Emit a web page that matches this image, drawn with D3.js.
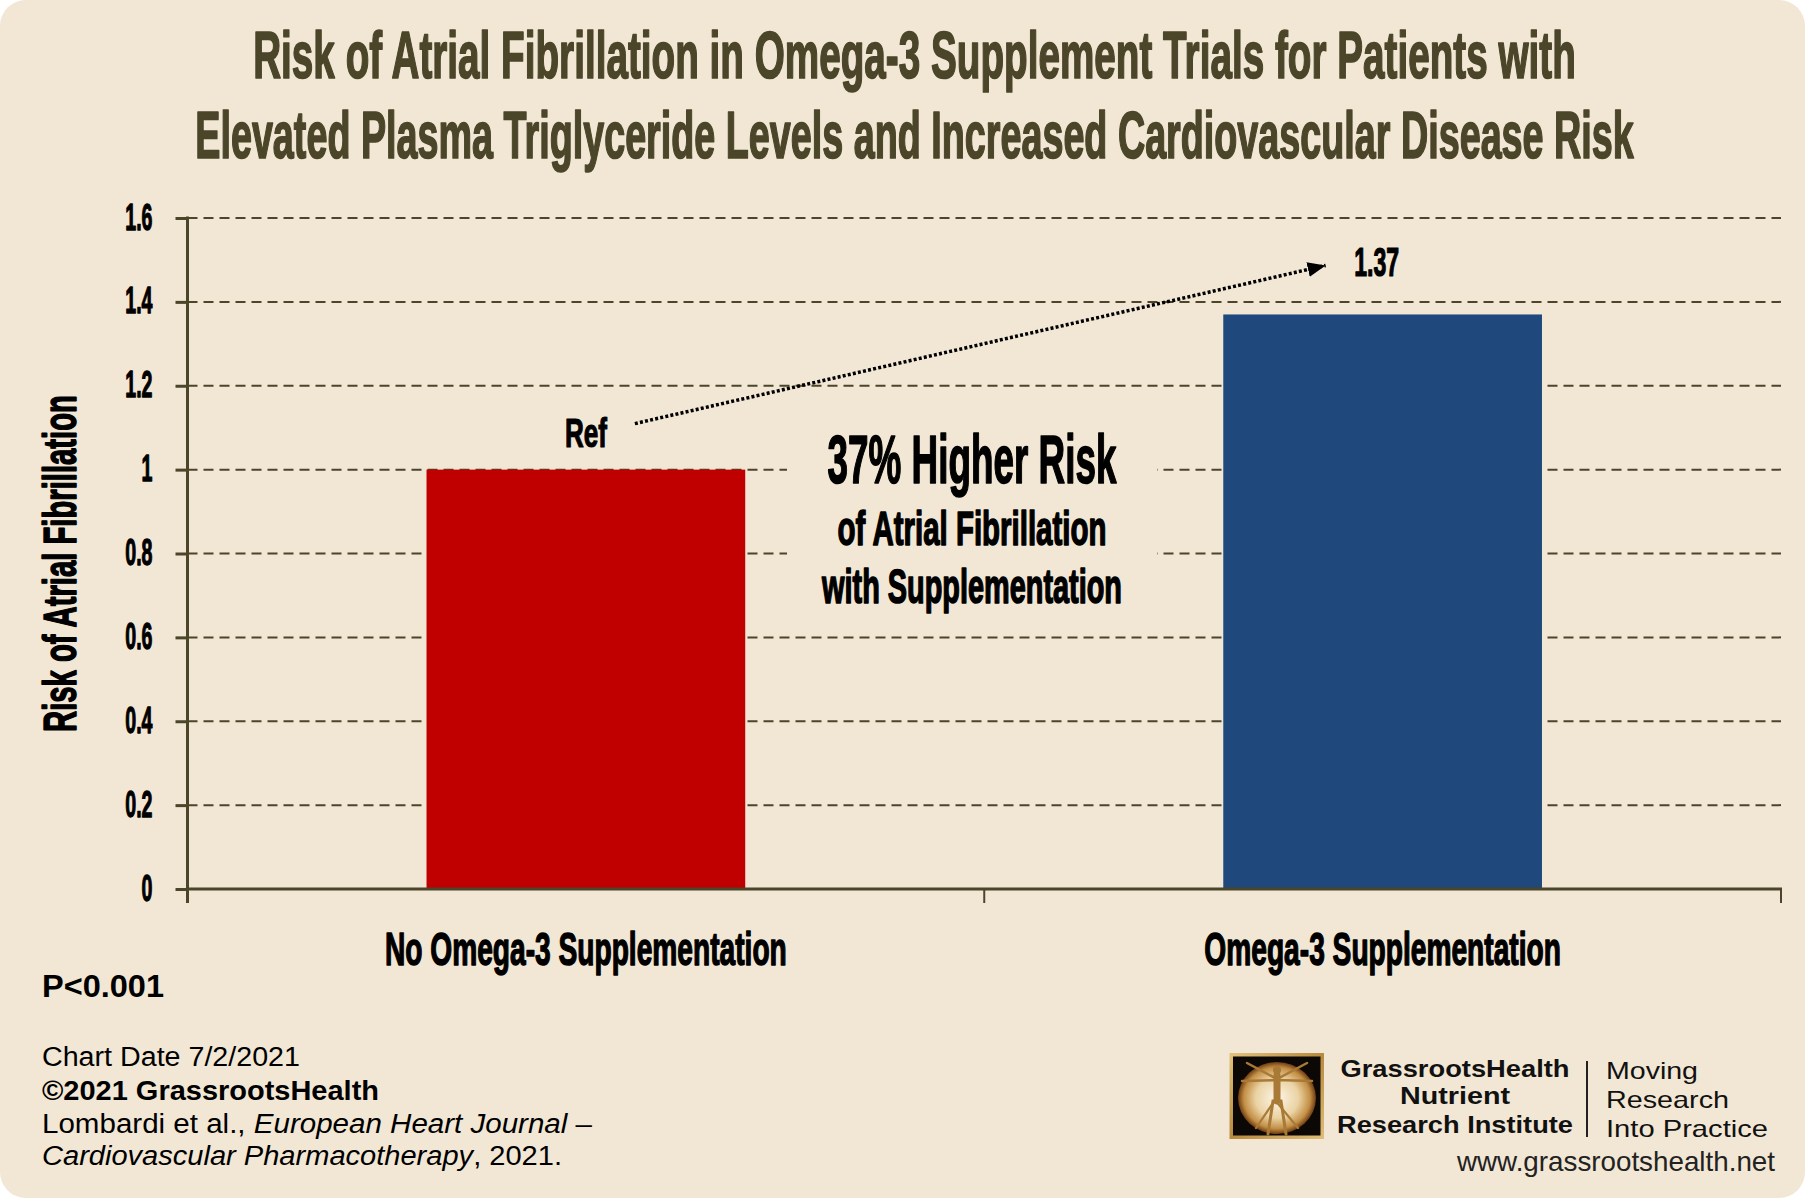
<!DOCTYPE html>
<html><head><meta charset="utf-8">
<script src="https://cdn.jsdelivr.net/npm/d3@7"></script>
<style>body{margin:0;background:#fff}svg{display:block}</style>
</head><body><svg id="chart" width="1805" height="1198"></svg>
<script>
// ---------- data ----------
const categories = ["No Omega-3 Supplementation", "Omega-3 Supplementation"];
const risks = [1.0, 1.37];
const valueLabels = ["Ref", "1.37"];
const barColors = ["#C00000", "#1F497D"];
const yTicks = [0, 0.2, 0.4, 0.6, 0.8, 1.0, 1.2, 1.4, 1.6];
const yTickLabels = ["0", "0.2", "0.4", "0.6", "0.8", "1", "1.2", "1.4", "1.6"];
const titleLines = [
  "Risk of Atrial Fibrillation in Omega-3 Supplement Trials for Patients with",
  "Elevated Plasma Triglyceride Levels and Increased Cardiovascular Disease Risk"
];
const yAxisTitle = "Risk of Atrial Fibrillation";
const annotationLines = ["37% Higher Risk", "of Atrial Fibrillation", "with Supplementation"];
const pValue = "P<0.001";
const logoLeft = ["GrassrootsHealth", "Nutrient", "Research Institute"];
const logoRight = ["Moving", "Research", "Into Practice"];
const website = "www.grassrootshealth.net";

// ---------- setup ----------
const W = 1805, H = 1198;
const BG = "#F1E7D4", OLIVE = "#4B4529";
const svg = d3.select("#chart");
svg.append("rect").attr("width", W).attr("height", H).attr("fill", "#fff");
svg.append("rect").attr("width", W).attr("height", H).attr("rx", 26).attr("fill", BG);

const COND = "'Liberation Sans', Arial, sans-serif";
function cond(sel, size, color, sw) {
  return sel.attr("font-family", COND).attr("font-weight", "bold").attr("font-size", size)
    .attr("fill", color).attr("stroke", color).attr("stroke-width", sw)
    .attr("stroke-linejoin", "round").attr("vector-effect", "non-scaling-stroke");
}
// horizontally condense a text by transform so that it gets width w (or factor k)
function place(sel, cx, by, opt) {
  sel.each(function () {
    const nat = this.getComputedTextLength();
    const k = opt.w ? opt.w / nat : opt.k;
    d3.select(this).attr("x", 0).attr("y", 0)
      .attr("transform", `translate(${cx},${by})${opt.rot ? ` rotate(${opt.rot})` : ""} scale(${k},1)`);
  });
}
function fit(sel, w) { return sel.attr("textLength", w).attr("lengthAdjust", "spacingAndGlyphs"); }

// ---------- title ----------
const titleWidths = [1323, 1439];
titleLines.forEach((t, i) => {
  const tx = svg.append("text").attr("text-anchor", "middle").text(t);
  cond(tx, 66.5, OLIVE, 1.4);
  place(tx, 914.5, 78 + i * 80, { w: titleWidths[i] });
});

// ---------- scales ----------
const x = d3.scaleBand().domain(categories).range([187.5, 1781]).paddingInner(0.6).paddingOuter(0.3);
const xb = d3.scaleBand().domain(categories).range([187.5, 1781]).padding(0);
const y = d3.scaleLinear().domain([0, 1.6]).range([889, 218]);

// ---------- gridlines ----------
svg.append("g").selectAll("line").data(yTicks.filter(d => d > 0)).join("line")
  .attr("x1", 187.5).attr("x2", 1781).attr("y1", d => y(d)).attr("y2", d => y(d))
  .attr("stroke", OLIVE).attr("stroke-width", 2).attr("stroke-dasharray", "10,6");

// mask behind annotation
svg.append("rect").attr("x", 787).attr("y", 418).attr("width", 370).attr("height", 182).attr("fill", BG);

// ---------- bars ----------
svg.append("g").selectAll("rect").data(categories).join("rect")
  .attr("x", d => x(d)).attr("width", x.bandwidth())
  .attr("y", (d, i) => y(risks[i])).attr("height", (d, i) => y(0) - y(risks[i]))
  .attr("fill", (d, i) => barColors[i]);

// ---------- y axis ----------
const ya = svg.append("g").attr("transform", "translate(187.5,0)")
  .call(d3.axisLeft(y).tickValues(yTicks).tickFormat((d, i) => yTickLabels[i]).tickSize(12).tickPadding(23));
ya.select(".domain").remove();
ya.selectAll(".tick line").attr("stroke", OLIVE).attr("stroke-width", 3);
const yt = ya.selectAll(".tick text").attr("dy", null);
cond(yt, 37, "#000", 1);
place(yt, -35, 11, { k: 0.53 });
svg.append("line").attr("x1", 187.5).attr("x2", 187.5).attr("y1", y(1.6) - 1.5).attr("y2", y(0) + 14)
  .attr("stroke", OLIVE).attr("stroke-width", 3);

// ---------- x axis ----------
svg.append("line").attr("x1", 187.5).attr("x2", 1782).attr("y1", y(0)).attr("y2", y(0))
  .attr("stroke", OLIVE).attr("stroke-width", 3);
const bounds = categories.slice(1).map(c => xb(c)).concat([xb.range()[1]]);
svg.append("g").selectAll("line").data(bounds).join("line")
  .attr("x1", d => d).attr("x2", d => d).attr("y1", y(0)).attr("y2", y(0) + 14)
  .attr("stroke", OLIVE).attr("stroke-width", 2);
categories.forEach(c => {
  const tx = svg.append("text").attr("text-anchor", "middle").text(c);
  cond(tx, 46, "#000", 1.2);
  place(tx, xb(c) + xb.bandwidth() / 2, 965, { k: 0.612 });
});

// ---------- y axis title ----------
const ytt = svg.append("text").attr("text-anchor", "middle").text(yAxisTitle);
cond(ytt, 46, "#000", 1.2);
place(ytt, 76, 563.5, { w: 337, rot: -90 });

// ---------- value labels ----------
const labelOffsets = [23, 38];
const labelWidths = [42, 45];
const labelDx = [0, -6];
valueLabels.forEach((t, i) => {
  const c = categories[i];
  const tx = svg.append("text").attr("text-anchor", "middle").text(t);
  cond(tx, 41, "#000", 1);
  place(tx, x(c) + x.bandwidth() / 2 + labelDx[i], y(risks[i]) - labelOffsets[i], { w: labelWidths[i] });
});

// ---------- arrow ----------
const defs = svg.append("defs");
defs.append("marker").attr("id", "ah").attr("markerUnits", "userSpaceOnUse")
  .attr("viewBox", "0 -8 18 16").attr("refX", 18).attr("refY", 0)
  .attr("markerWidth", 18).attr("markerHeight", 16).attr("orient", "auto")
  .append("path").attr("d", "M0,-7.5L18,0L0,7.5Z").attr("fill", "#000");
const c0 = x(categories[0]) + x.bandwidth() / 2, c1 = x(categories[1]) + x.bandwidth() / 2;
svg.append("line").attr("x1", c0 + 49).attr("y1", y(risks[0]) - 46)
  .attr("x2", c1 - 57).attr("y2", y(risks[1]) - 49)
  .attr("stroke", "#000").attr("stroke-width", 3.5).attr("stroke-dasharray", "3,2.2")
  .attr("marker-end", "url(#ah)");

// ---------- annotation ----------
const annY = [483, 545, 603], annSize = [68, 47.5, 47.5], annW = [289, 269, 300];
annotationLines.forEach((t, i) => {
  const tx = svg.append("text").attr("text-anchor", "middle").text(t);
  cond(tx, annSize[i], "#000", 1.3);
  place(tx, 972, annY[i], { w: annW[i] });
});

// ---------- footer left ----------
const ARIAL = "'Liberation Sans', Arial, sans-serif";
fit(svg.append("text").attr("x", 42).attr("y", 997).attr("font-family", ARIAL).attr("font-weight", "bold")
  .attr("font-size", 31).attr("fill", "#000").text(pValue), 122);
fit(svg.append("text").attr("x", 42).attr("y", 1066).attr("font-family", ARIAL)
  .attr("font-size", 27).attr("fill", "#000").text("Chart Date 7/2/2021"), 258);
fit(svg.append("text").attr("x", 42).attr("y", 1099.5).attr("font-family", ARIAL).attr("font-weight", "bold")
  .attr("font-size", 27).attr("fill", "#000").text("©2021 GrassrootsHealth"), 337);
const l3 = svg.append("text").attr("x", 42).attr("y", 1132.5).attr("font-family", ARIAL)
  .attr("font-size", 27).attr("fill", "#000");
l3.append("tspan").text("Lombardi et al., ");
l3.append("tspan").attr("font-style", "italic").text("European Heart Journal");
l3.append("tspan").text(" –");
fit(l3, 550);
const l4 = svg.append("text").attr("x", 42).attr("y", 1165).attr("font-family", ARIAL)
  .attr("font-size", 27).attr("fill", "#000");
l4.append("tspan").attr("font-style", "italic").text("Cardiovascular Pharmacotherapy");
l4.append("tspan").text(", 2021.");
fit(l4, 520);

// ---------- logo ----------
const lg = defs.append("linearGradient").attr("id", "gold").attr("x1", 0).attr("y1", 0).attr("x2", 1).attr("y2", 1);
lg.append("stop").attr("offset", 0).attr("stop-color", "#E2C37E");
lg.append("stop").attr("offset", 0.5).attr("stop-color", "#B88A3E");
lg.append("stop").attr("offset", 1).attr("stop-color", "#E0BE78");
const rg = defs.append("radialGradient").attr("id", "orb");
rg.append("stop").attr("offset", 0).attr("stop-color", "#FDF6E8");
rg.append("stop").attr("offset", 0.55).attr("stop-color", "#EAD3A4");
rg.append("stop").attr("offset", 0.85).attr("stop-color", "#C38F45");
rg.append("stop").attr("offset", 1).attr("stop-color", "#6E3C12");
const logo = svg.append("g");
logo.append("rect").attr("x", 1229.5).attr("y", 1053).attr("width", 94.5).attr("height", 86).attr("fill", "url(#gold)");
logo.append("rect").attr("x", 1233).attr("y", 1056.5).attr("width", 87.5).attr("height", 79).attr("fill", "#0B0806");
logo.append("ellipse").attr("cx", 1277).attr("cy", 1098).attr("rx", 39).attr("ry", 36).attr("fill", "url(#orb)");
const fig = logo.append("g").attr("stroke", "#A97A36").attr("stroke-linecap", "round").attr("fill", "none");
fig.append("circle").attr("cx", 1277).attr("cy", 1070).attr("r", 4).attr("fill", "#A97A36").attr("stroke", "none");
fig.append("path").attr("d", "M1277,1075 L1277,1101").attr("stroke-width", 7);
fig.append("path").attr("d", "M1242,1081 L1277,1080 L1312,1081").attr("stroke-width", 2.5);
fig.append("path").attr("d", "M1247,1063 L1277,1079 L1307,1063").attr("stroke-width", 2.5);
fig.append("path").attr("d", "M1268,1134 L1273,1101 L1281,1101 L1286,1134").attr("stroke-width", 3);
fig.append("path").attr("d", "M1256,1128 L1275,1100 L1298,1128").attr("stroke-width", 2.2);

const llY = [1077, 1104, 1132.7], llW = [229, 110, 236];
logoLeft.forEach((t, i) => {
  fit(svg.append("text").attr("x", 1455).attr("y", llY[i]).attr("text-anchor", "middle")
    .attr("font-family", ARIAL).attr("font-weight", "bold").attr("font-size", 24).attr("fill", "#111").text(t), llW[i]);
});
svg.append("line").attr("x1", 1587).attr("x2", 1587).attr("y1", 1061).attr("y2", 1137)
  .attr("stroke", "#222").attr("stroke-width", 2);
const lrY = [1079, 1108, 1137], lrW = [92, 123, 162];
logoRight.forEach((t, i) => {
  fit(svg.append("text").attr("x", 1606).attr("y", lrY[i])
    .attr("font-family", ARIAL).attr("font-size", 24).attr("fill", "#111").text(t), lrW[i]);
});
fit(svg.append("text").attr("x", 1775).attr("y", 1171).attr("text-anchor", "end")
  .attr("font-family", ARIAL).attr("font-size", 28).attr("fill", "#222").text(website), 318);
</script>
</body></html>
